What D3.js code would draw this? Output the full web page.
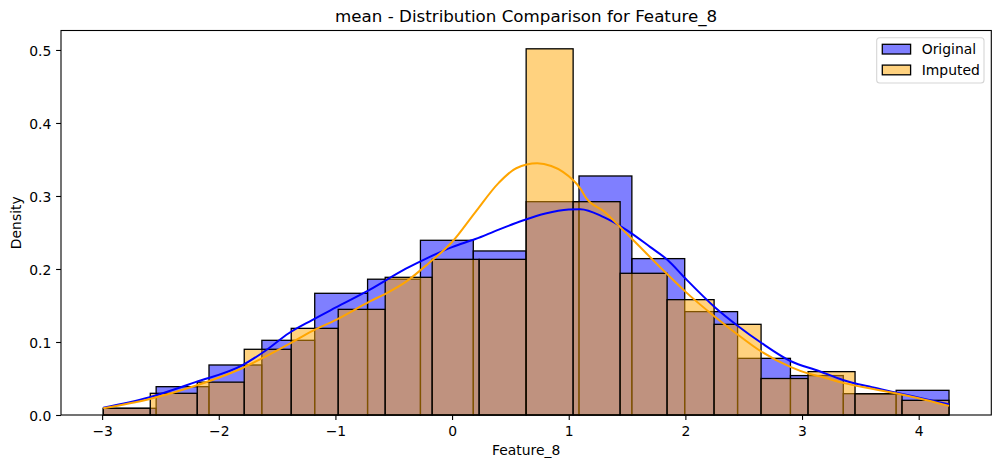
<!DOCTYPE html>
<html>
<head>
<meta charset="utf-8">
<script src="https://cdn.jsdelivr.net/npm/d3@7"></script>
<style>
    body { margin: 0; background: #fff; }
    text { font-family: "DejaVu Sans", sans-serif; fill: #000; }
</style>
</head>
<body>
<svg id="chart" width="1001" height="468"></svg>
<script>
// densities per bin (stat = density)
const originalDensity = [0.0092, 0.0388, 0.0685, 0.1023, 0.1667, 0.1860, 0.2393, 0.2247,
    0.2922, 0.3274, 0.2142, 0.1416, 0.0776, 0.0540, 0.0292, 0.0338];
const imputedDensity = [0.0092, 0.0297, 0.0450, 0.0900, 0.1187, 0.1447, 0.1886, 0.2132, 0.2132,
    0.5016, 0.2922, 0.1941, 0.1580, 0.1242, 0.0500, 0.0594, 0.0290, 0.0201];

// both histograms span the same data range
const dataMin = -2.99;
const dataMax = 4.26;

// kde curves, [x, density]
const originalKde = [[-2.99, 0.010], [-2.6, 0.024], [-2.2, 0.045], [-1.8, 0.068], [-1.6, 0.088],
    [-1.4, 0.112], [-1.2, 0.130], [-1.0, 0.147], [-0.7, 0.172], [-0.4, 0.200], [-0.2, 0.216],
    [0.0, 0.230], [0.2, 0.241], [0.4, 0.254], [0.6, 0.266], [0.8, 0.276], [1.0, 0.2815],
    [1.1, 0.282], [1.3, 0.271], [1.5, 0.253], [1.7, 0.230], [1.85, 0.212], [2.0, 0.187],
    [2.25, 0.148], [2.45, 0.122], [2.65, 0.099], [2.9, 0.074], [3.15, 0.060], [3.35, 0.048],
    [3.6, 0.038], [3.8, 0.031], [4.05, 0.022], [4.26, 0.0146]];
const imputedKde = [[-2.99, 0.0092], [-2.6, 0.0215], [-2.2, 0.040], [-1.8, 0.064], [-1.6, 0.080],
    [-1.4, 0.097], [-1.2, 0.115], [-1.0, 0.130], [-0.7, 0.156], [-0.56, 0.167], [-0.4, 0.182],
    [-0.2, 0.208], [0.0, 0.237], [0.2, 0.278], [0.4, 0.318], [0.55, 0.338], [0.73, 0.3447],
    [0.85, 0.341], [0.95, 0.333], [1.1, 0.310], [1.15, 0.297], [1.3, 0.279], [1.45, 0.256],
    [1.55, 0.240], [1.85, 0.192], [2.0, 0.169], [2.25, 0.135], [2.45, 0.110], [2.65, 0.087],
    [2.9, 0.066], [3.05, 0.057], [3.15, 0.053], [3.35, 0.044], [3.6, 0.036], [3.8, 0.0297],
    [4.05, 0.021], [4.26, 0.0125]];

const xTicks = [-3, -2, -1, 0, 1, 2, 3, 4];
const yTicks = [0, 0.1, 0.2, 0.3, 0.4, 0.5];
const seriesNames = ["Original", "Imputed"];
const seriesColors = ["blue", "orange"];

const titleText = "mean - Distribution Comparison for Feature_8";
const xLabel = "Feature_8";
const yLabel = "Density";

// axes box in pixels
const plotLeft = 61, plotRight = 991.3, plotTop = 30.5, plotBottom = 415;
const fontSize = "13.9px";

let svg = d3.select("#chart");

let span = dataMax - dataMin;
let x = d3.scaleLinear()
    .domain([dataMin - 0.05 * span, dataMax + 0.05 * span])
    .range([plotLeft, plotRight]);

let yMax = d3.max(originalDensity.concat(imputedDensity));
let y = d3.scaleLinear()
    .domain([0, yMax * 1.05])
    .range([plotBottom, plotTop]);

function makeBins(dens) {
    let w = (dataMax - dataMin) / dens.length;
    return dens.map((d, i) => ({x0: dataMin + i * w, x1: dataMin + (i + 1) * w, d: d}));
}

let bars = svg.append("g");
[originalDensity, imputedDensity].forEach(function (dens, k) {
    bars.append("g")
        .selectAll("rect")
        .data(makeBins(dens))
        .enter().append("rect")
        .attr("x", d => x(d.x0))
        .attr("y", d => y(d.d))
        .attr("width", d => x(d.x1) - x(d.x0))
        .attr("height", d => y(0) - y(d.d))
        .attr("fill", seriesColors[k])
        .attr("fill-opacity", 0.5)
        .attr("stroke", "#000")
        .attr("stroke-width", 1.3);
});

let line = d3.line()
    .x(d => x(d[0]))
    .y(d => y(d[1]))
    .curve(d3.curveMonotoneX);

[originalKde, imputedKde].forEach(function (pts, k) {
    svg.append("path")
        .datum(pts)
        .attr("d", line)
        .attr("fill", "none")
        .attr("stroke", seriesColors[k])
        .attr("stroke-width", 2);
});

// axes
let xAxis = svg.append("g")
    .attr("transform", "translate(0," + plotBottom + ")")
    .call(d3.axisBottom(x).tickValues(xTicks).tickSize(4.9).tickFormat(d3.format("d")));
xAxis.select(".domain").remove();
xAxis.selectAll("text")
    .attr("y", 21)
    .attr("dy", null)
    .style("font-size", fontSize)
    .style("font-family", "DejaVu Sans");

let yAxis = svg.append("g")
    .attr("transform", "translate(" + plotLeft + ",0)")
    .call(d3.axisLeft(y).tickValues(yTicks).tickSize(4.9).tickFormat(d3.format(".1f")));
yAxis.select(".domain").remove();
yAxis.selectAll("text")
    .attr("x", -9.7)
    .attr("dy", null)
    .attr("y", 5.1)
    .style("font-size", fontSize)
    .style("font-family", "DejaVu Sans");

svg.selectAll(".tick line").attr("stroke", "#000").attr("stroke-width", 1.1);

// spines
svg.append("rect")
    .attr("x", plotLeft)
    .attr("y", plotTop)
    .attr("width", plotRight - plotLeft)
    .attr("height", plotBottom - plotTop)
    .attr("fill", "none")
    .attr("stroke", "#000")
    .attr("stroke-width", 1.1);

svg.append("text")
    .attr("x", (plotLeft + plotRight) / 2)
    .attr("y", 22.2)
    .attr("text-anchor", "middle")
    .style("font-size", "16.7px")
    .text(titleText);

svg.append("text")
    .attr("x", (plotLeft + plotRight) / 2)
    .attr("y", 455)
    .attr("text-anchor", "middle")
    .style("font-size", fontSize)
    .text(xLabel);

svg.append("text")
    .attr("transform", "translate(20.6," + (plotTop + plotBottom) / 2 + ") rotate(-90)")
    .attr("text-anchor", "middle")
    .style("font-size", fontSize)
    .text(yLabel);

// legend
let legend = svg.append("g").attr("transform", "translate(876.7,37.7)");
legend.append("rect")
    .attr("width", 107.3)
    .attr("height", 45.3)
    .attr("rx", 3)
    .attr("fill", "#fff")
    .attr("fill-opacity", 0.8)
    .attr("stroke", "#d5d5d5")
    .attr("stroke-width", 1.1);

let item = legend.selectAll(".item")
    .data(seriesNames)
    .enter().append("g")
    .attr("class", "item")
    .attr("transform", (d, i) => "translate(0," + (i * 20.8) + ")");

item.append("rect")
    .attr("x", 5.6)
    .attr("y", 6.6)
    .attr("width", 28.3)
    .attr("height", 9.7)
    .attr("fill", (d, i) => seriesColors[i])
    .attr("fill-opacity", 0.5)
    .attr("stroke", "#000")
    .attr("stroke-width", 1.3);

item.append("text")
    .attr("x", 45)
    .attr("y", 16)
    .style("font-size", fontSize)
    .text(d => d);
</script>
</body>
</html>
